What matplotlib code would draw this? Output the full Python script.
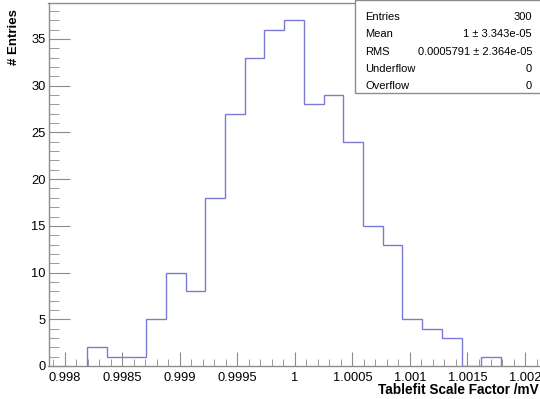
import numpy as np
import matplotlib
matplotlib.use("Agg")
import matplotlib.pyplot as plt
from matplotlib.ticker import MultipleLocator, FuncFormatter

plt.rcParams['font.family'] = ['Liberation Sans', 'DejaVu Sans']

# histogram contents (21 equal bins)
counts = [2, 1, 1, 5, 10, 8, 18, 27, 33, 36, 37, 28, 29, 24, 15, 13, 5, 4, 3, 0, 1]
bin_lo = 0.998194
bin_hi = 1.001791

# stats box
stat_names = ['Entries', 'Mean', 'RMS', 'Underflow', 'Overflow']
stat_values = ['300', '1 \u00b1 3.343e-05', '0.0005791 \u00b1 2.364e-05', '0', '0']

x_ticks = [0.998, 0.9985, 0.999, 0.9995, 1.0, 1.0005, 1.001, 1.0015, 1.002]

W, H = 540, 399
fig = plt.figure(figsize=(W / 100, H / 100), dpi=100)
ax = fig.add_axes([48.5 / W, 1 - 366 / H, 1 - 48.5 / W, (366 - 3) / H])

edges = np.linspace(bin_lo, bin_hi, len(counts) + 1)
ax.stairs(counts, edges, color='#7b7bd6', lw=1.0, baseline=0)

ax.set_xlim(0.99786, 1.00213)
ax.set_ylim(0, 38.85)

frame_col = '#8c8c8c'
for side in ['left', 'bottom', 'top']:
    ax.spines[side].set_color(frame_col)
    ax.spines[side].set_linewidth(1.0)
ax.spines['right'].set_visible(False)

ax.set_xticks(x_ticks)
ax.xaxis.set_major_formatter(FuncFormatter(lambda v, p: '%g' % round(v, 5)))
ax.xaxis.set_minor_locator(MultipleLocator(0.0001))
ax.yaxis.set_major_locator(MultipleLocator(5))
ax.yaxis.set_minor_locator(MultipleLocator(1))

ax.tick_params(axis='both', which='both', direction='in', color=frame_col,
               labelsize=9.3, labelcolor='black')
ax.tick_params(axis='x', which='major', length=10, pad=4)
ax.tick_params(axis='x', which='minor', length=5)
ax.tick_params(axis='y', which='major', length=15, pad=2)
ax.tick_params(axis='y', which='minor', length=7)

fig.text(539 / W, 1 - 390 / H, 'Tablefit Scale Factor /mV', ha='right', va='center',
         fontsize=9.8, fontweight='bold')
fig.text(14 / W, 1 - 9 / H, '# Entries', ha='center', va='top', rotation=90,
         fontsize=9.5, fontweight='bold')

# stats box
box = plt.Rectangle((355 / W, 1 - 93 / H), 1 - 355 / W + 0.01, 93 / H,
                    transform=fig.transFigure, facecolor='white',
                    edgecolor=frame_col, lw=1.0)
fig.add_artist(box)
row_y = [17, 34, 52, 69, 86]
for name, val, y in zip(stat_names, stat_values, row_y):
    fig.text(365 / W, 1 - y / H, name, ha='left', va='center', fontsize=8)
    fig.text(532 / W, 1 - y / H, val, ha='right', va='center', fontsize=8)

fig.savefig('out.png', dpi=100)
